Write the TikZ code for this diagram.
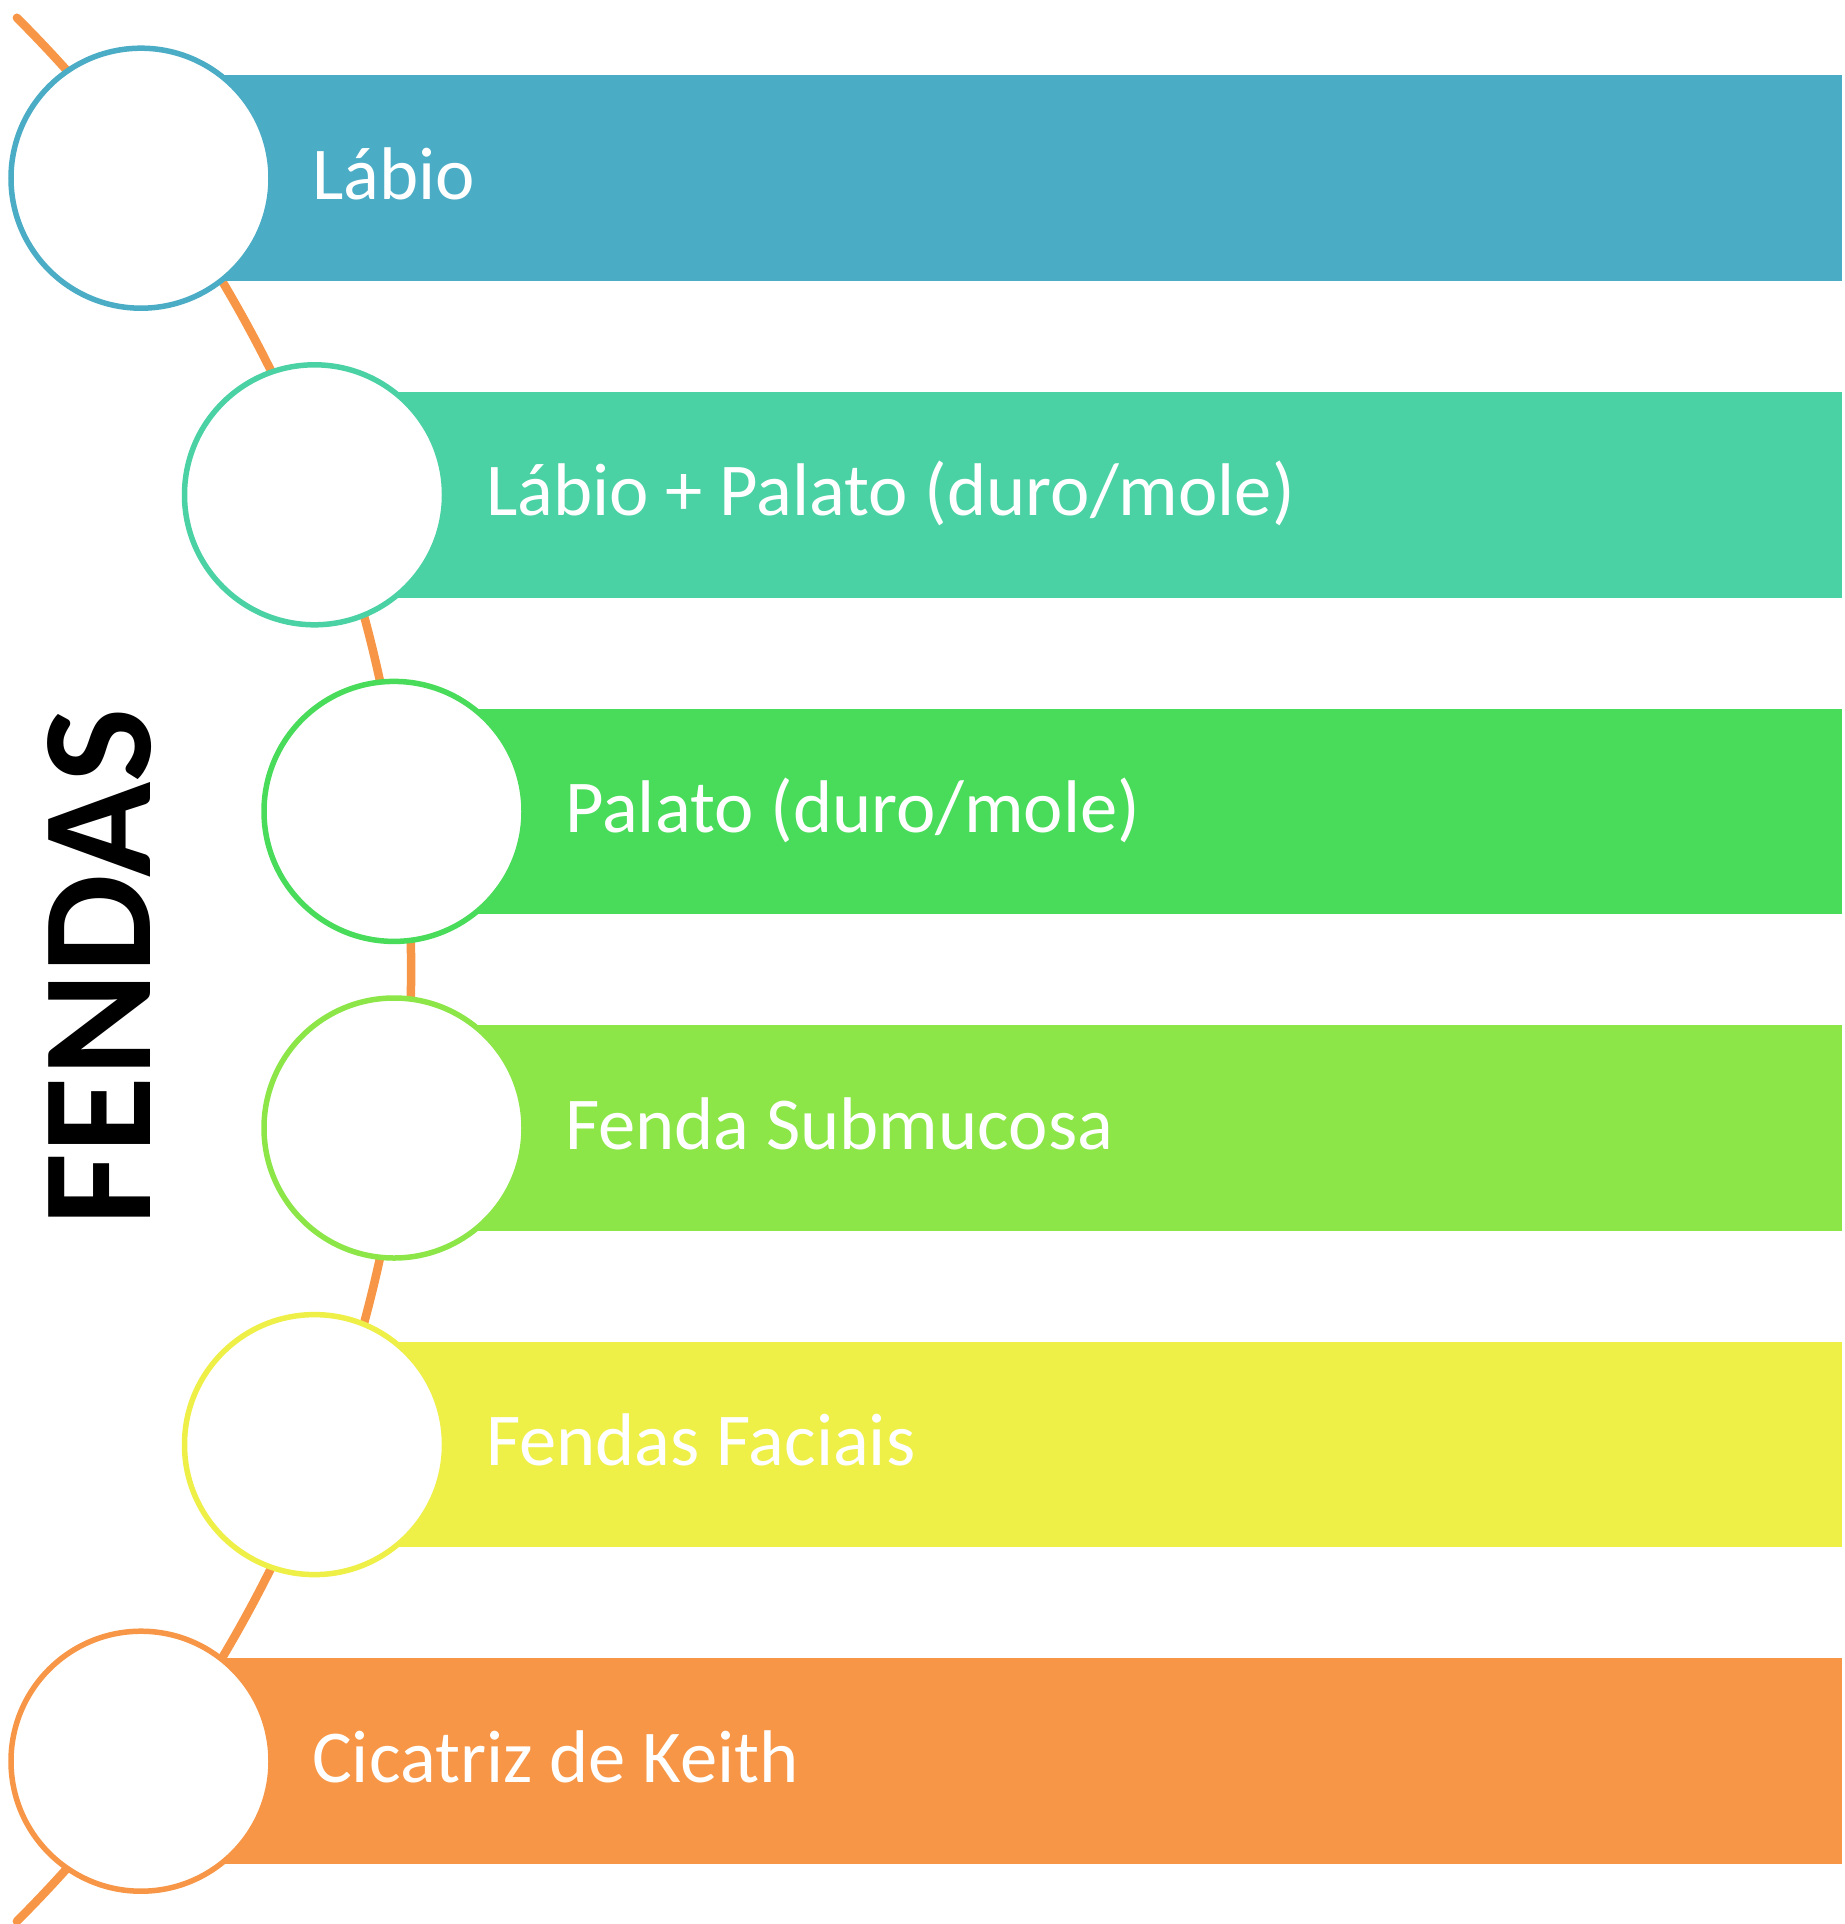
\documentclass[tikz,border=0pt]{standalone}
\usepackage{fontspec}
\setmainfont{Carlito}
\usetikzlibrary{calc}
\definecolor{cA}{RGB}{75,172,198}
\definecolor{cB}{RGB}{74,209,164}
\definecolor{cC}{RGB}{72,220,90}
\definecolor{cD}{RGB}{141,230,72}
\definecolor{cE}{RGB}{238,239,71}
\definecolor{cF}{RGB}{247,150,70}
\begin{document}
\begin{tikzpicture}[x=1pt,y=-1pt,
  spine/.style={draw=cF, line width=8.5pt, line cap=round},
  bubble/.style={circle, fill=white, line width=5.5pt, minimum size=260pt, inner sep=0pt},
  band/.style={rectangle, inner sep=0pt, minimum height=205.5pt, anchor=west},
  lbl/.style={text=white, anchor=base west, inner sep=0pt, font=\fontsize{74.6}{80}\selectfont},
  titletext/.style={rotate=90, inner sep=0pt, font=\bfseries\fontsize{157}{170}\selectfont}]
\useasboundingbox (0,0) rectangle (1844,1924);
% spine arc
\coordinate (spinecenter) at (-934.9,969.5);
\coordinate (spinetop) at ($(spinecenter)+(-45:1346)$);
\draw[spine] (spinetop) arc[start angle=-45, end angle=45, radius=1346];
% bars
\node[band, fill=cA, minimum width=1701pt]   (bar1) at (141,178.2) {};
\node[band, fill=cB, minimum width=1527.5pt] (bar2) at (314.5,494.8) {};
\node[band, fill=cC, minimum width=1448pt]   (bar3) at (394,811.4) {};
\node[band, fill=cD, minimum width=1448pt]   (bar4) at (394,1128.0) {};
\node[band, fill=cE, minimum width=1527.5pt] (bar5) at (314.5,1444.6) {};
\node[band, fill=cF, minimum width=1701pt]   (bar6) at (141,1761.2) {};
% circles
\node[bubble, draw=cA] (k1) at (141,178.2) {};
\node[bubble, draw=cB] (k2) at (314.5,494.8) {};
\node[bubble, draw=cC] (k3) at (394,811.4) {};
\node[bubble, draw=cD] (k4) at (394,1128.0) {};
\node[bubble, draw=cE] (k5) at (314.5,1444.6) {};
\node[bubble, draw=cF] (k6) at (141,1761.2) {};
% labels
\node[lbl] (t1) at (312,199.2) {Lábio};
\node[lbl] (t2) at (486,515.8) {Lábio + Palato (duro/mole)};
\node[lbl] (t3) at (565,832.4) {Palato (duro/mole)};
\node[lbl] (t4) at (565,1149.0) {Fenda Submucosa};
\node[lbl] (t5) at (486,1465.6) {Fendas Faciais};
\node[lbl] (t6) at (312,1782.2) {Cicatriz de Keith};
% title
\node[titletext] (title) at (100,967) {FENDAS};
\end{tikzpicture}
\end{document}
